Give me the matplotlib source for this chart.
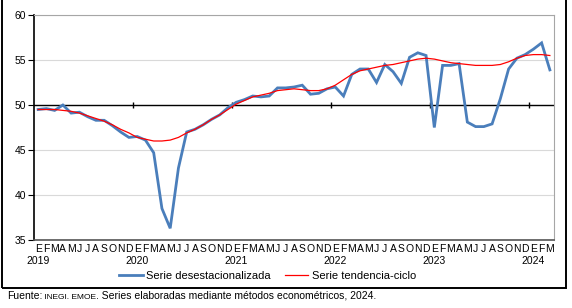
import numpy as np
import matplotlib
matplotlib.use("Agg")
import matplotlib.pyplot as plt
from matplotlib.lines import Line2D
from matplotlib.patches import Rectangle

plt.rcParams['font.family'] = ['Liberation Sans', 'DejaVu Sans']

# Monthly labels (Spanish initials), Jan 2019 - Mar 2024
month_letters = ['E', 'F', 'M', 'A', 'M', 'J', 'J', 'A', 'S', 'O', 'N', 'D']
years = ['2019', '2020', '2021', '2022', '2023', '2024']
n_months_last = 3

# Serie desestacionalizada
desest = [
    49.5, 49.6, 49.4, 50.0, 49.1, 49.2, 48.7, 48.3, 48.3, 47.7, 47.0, 46.4,   # 2019
    46.5, 46.1, 44.7, 38.5, 36.3, 43.0, 47.0, 47.3, 47.8, 48.4, 48.9, 49.7,   # 2020
    50.3, 50.6, 51.0, 50.9, 51.0, 51.9, 51.9, 52.0, 52.2, 51.2, 51.3, 51.8,   # 2021
    52.0, 51.0, 53.4, 54.0, 54.0, 52.5, 54.5, 53.7, 52.4, 55.3, 55.8, 55.5,   # 2022
    47.5, 54.4, 54.4, 54.6, 48.1, 47.6, 47.6, 47.9, 50.7, 54.0, 55.2, 55.6,   # 2023
    56.2, 56.9, 53.9,                                                         # 2024
]

# Serie tendencia-ciclo
tendencia = [
    49.5, 49.5, 49.5, 49.4, 49.3, 49.1, 48.8, 48.5, 48.2, 47.8, 47.3, 46.9,
    46.4, 46.2, 46.0, 46.0, 46.1, 46.4, 46.9, 47.3, 47.8, 48.4, 48.9, 49.5,
    50.1, 50.5, 50.9, 51.1, 51.3, 51.6, 51.7, 51.8, 51.7, 51.6, 51.6, 51.8,
    52.2, 52.8, 53.4, 53.8, 54.0, 54.2, 54.4, 54.5, 54.7, 54.9, 55.1, 55.2,
    55.1, 54.9, 54.7, 54.6, 54.5, 54.4, 54.4, 54.4, 54.5, 54.8, 55.2, 55.5,
    55.6, 55.6, 55.5,
]

labels = month_letters * (len(years) - 1) + month_letters[:n_months_last]
x = np.arange(len(desest))

fig = plt.figure(figsize=(5.72, 3.08), dpi=100)
W, H = 572, 308
ax = fig.add_axes([34 / W, 1 - 240 / H, 520 / W, 225 / H])

# outer frame
fig.patches.append(Rectangle((2 / W, 1 - 288 / H), 564 / W, 300 / H,
                             transform=fig.transFigure, fill=False,
                             edgecolor='black', linewidth=1.4))

ax.set_xlim(-0.5, len(x) - 0.5)
ax.set_ylim(35, 60)
ax.set_yticks([35, 40, 45, 50, 55, 60])
ax.yaxis.grid(True, color='#d9d9d9', linewidth=0.8)
ax.set_axisbelow(True)

ax.plot(x, desest, color='#4a7ebb', linewidth=2.0, solid_joinstyle='miter', zorder=3)
ax.plot(x, tendencia, color='#ff0000', linewidth=0.9, zorder=4)

# category axis crossing at 50 with year tick marks
ax.axhline(50, color='black', linewidth=1.0, zorder=2)
boundaries = np.arange(12, len(x), 12) - 0.5
ax.plot(boundaries, [50] * len(boundaries), ls='none', marker='|',
        markersize=4, markeredgewidth=1.0, color='black', zorder=2)

ax.set_xticks(x)
ax.set_xticklabels(labels, fontsize=7.5)
ax.tick_params(axis='x', length=0, pad=3)
ax.tick_params(axis='y', length=4, width=0.8, labelsize=7.5, pad=1.5,
               direction='out', color='black')

for i, yr in enumerate(years):
    ax.text(i * 12, -21 / 225, yr, transform=ax.get_xaxis_transform(),
            ha='center', va='center', fontsize=7.5)

ax.spines['left'].set_color('black')
ax.spines['left'].set_linewidth(1.2)
ax.spines['bottom'].set_color('#555555')
ax.spines['bottom'].set_linewidth(1.2)
ax.spines['top'].set_color('#a6a6a6')
ax.spines['right'].set_color('#a6a6a6')

handles = [Line2D([], [], color='#4a7ebb', linewidth=2.0),
           Line2D([], [], color='#ff0000', linewidth=0.9)]
fig.legend(handles, ['Serie desestacionalizada', 'Serie tendencia-ciclo'],
           loc='center', bbox_to_anchor=(0.468, 1 - 276 / H), ncol=2,
           frameon=False, fontsize=8, handlelength=2.1, handletextpad=0.3,
           columnspacing=1.3)

# source note
fig.canvas.draw()
r = fig.canvas.get_renderer()
parts = [('Fuente:', 7.5), (' INEGI. EMOE', 6), ('. Series elaboradas mediante métodos econométricos, 2024.', 7.5)]
xpos = 7
for txt, fs in parts:
    t = fig.text(xpos / W, 1 - 299 / H, txt, fontsize=fs, va='baseline')
    bb = t.get_window_extent(renderer=r)
    xpos += bb.width

fig.savefig('out.png', dpi=100)
